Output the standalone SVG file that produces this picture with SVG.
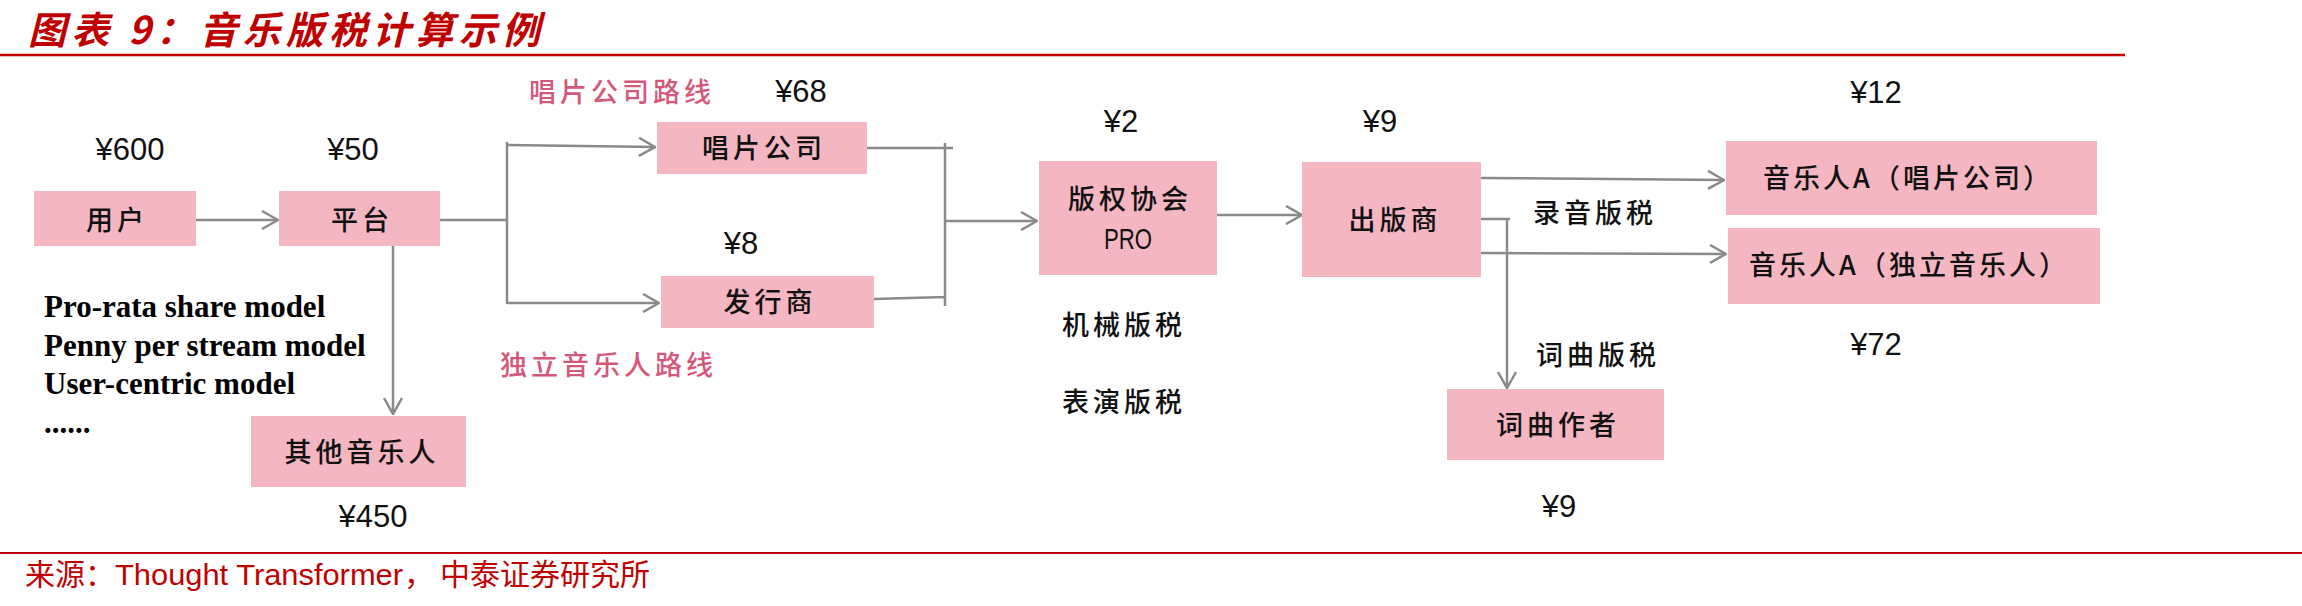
<svg xmlns="http://www.w3.org/2000/svg" width="2302" height="606" viewBox="0 0 2302 606">
  <style>
    .box { fill: #F4B6C0; }
    .lbl { font-family: "Noto Sans CJK SC", sans-serif; font-size: 27px; font-weight: 500; fill: #111; letter-spacing: 4px; text-anchor: middle; }
    .lbl-wide { letter-spacing: 3px; }
    .lat { font-family: "Liberation Sans", "Noto Sans CJK SC", sans-serif; font-size: 30px; letter-spacing: 0; }
    .amt { font-family: "Liberation Sans", sans-serif; font-size: 31px; fill: #111; text-anchor: middle; }
    .route { font-family: "Noto Sans CJK SC", sans-serif; font-size: 27px; font-weight: 500; fill: #D4587A; letter-spacing: 4px; }
    .model { font-family: "Liberation Serif", serif; font-size: 31px; font-weight: bold; fill: #000; }
    .wire { fill: none; stroke: #8A8A8A; stroke-width: 2.5; }
    .arrow { marker-end: url(#chev); }
    .rule { stroke: #C00000; }
  </style>
  <defs>
    <marker id="chev" viewBox="0 0 18 20" refX="17" refY="10" markerWidth="18" markerHeight="20" markerUnits="userSpaceOnUse" orient="auto">
      <path d="M1,1 L17,10 L1,19" fill="none" stroke="#8A8A8A" stroke-width="2.5"/>
    </marker>
  </defs>

  <rect width="2302" height="606" fill="#fff"/>

  <!-- heading and rules -->
  <g id="title">
    <text x="28" y="44" font-family="'Noto Sans CJK SC', sans-serif" font-size="38" font-weight="bold" font-style="italic" fill="#C00000" textLength="512" lengthAdjust="spacing">图表 9：音乐版税计算示例</text>
    <line class="rule" x1="0" y1="55" x2="2125" y2="55" stroke-width="2.5"/>
  </g>

  <!-- connectors -->
  <g id="connectors">
    <path class="wire arrow" d="M196,220 H278"/>
    <path class="wire" d="M440,220 H507 M507,142 V304"/>
    <path class="wire arrow" d="M507,145 L655,147"/>
    <path class="wire arrow" d="M507,303 H659"/>
    <path class="wire arrow" d="M393,246 V414"/>
    <path class="wire" d="M867,148 H953 M945,143 V306 M874,299 L945,297"/>
    <path class="wire arrow" d="M946,221 H1037"/>
    <path class="wire arrow" d="M1217,215 H1302"/>
    <path class="wire arrow" d="M1481,178 L1724,180"/>
    <path class="wire arrow" d="M1481,253 L1726,254"/>
    <path class="wire" d="M1481,219 H1510"/>
    <path class="wire arrow" d="M1507,219 V388"/>
  </g>

  <!-- nodes -->
  <g id="node-user">
    <rect class="box" x="34" y="191" width="162" height="55"/>
    <text class="lbl" x="117" y="230">用户</text>
    <text class="amt" x="130" y="160">¥600</text>
  </g>
  <g id="node-platform">
    <rect class="box" x="279" y="191" width="161" height="55"/>
    <text class="lbl" x="362" y="230">平台</text>
    <text class="amt" x="353" y="160">¥50</text>
  </g>
  <g id="node-label">
    <rect class="box" x="657" y="122" width="210" height="52"/>
    <text class="lbl" x="764" y="158">唱片公司</text>
    <text class="amt" x="801" y="102">¥68</text>
  </g>
  <g id="node-distributor">
    <rect class="box" x="661" y="276" width="213" height="52"/>
    <text class="lbl" x="770" y="312">发行商</text>
    <text class="amt" x="741" y="254">¥8</text>
  </g>
  <g id="node-pro">
    <rect class="box" x="1039" y="161" width="178" height="114"/>
    <text class="lbl" x="1130" y="209">版权协会</text>
    <text class="lbl lat" x="1128" y="249" textLength="48" lengthAdjust="spacingAndGlyphs">PRO</text>
    <text class="amt" x="1121" y="132">¥2</text>
  </g>
  <g id="node-publisher">
    <rect class="box" x="1302" y="162" width="179" height="115"/>
    <text class="lbl" x="1395" y="230">出版商</text>
    <text class="amt" x="1380" y="132">¥9</text>
  </g>
  <g id="node-artist-label">
    <rect class="box" x="1726" y="141" width="371" height="74"/>
    <text class="lbl lbl-wide" x="1908" y="188">音乐人A（唱片公司）</text>
    <text class="amt" x="1876" y="103">¥12</text>
  </g>
  <g id="node-artist-indie">
    <rect class="box" x="1728" y="228" width="372" height="76"/>
    <text class="lbl lbl-wide" x="1909" y="275">音乐人A（独立音乐人）</text>
    <text class="amt" x="1876" y="355">¥72</text>
  </g>
  <g id="node-songwriter">
    <rect class="box" x="1447" y="389" width="217" height="71"/>
    <text class="lbl" x="1558" y="435">词曲作者</text>
    <text class="amt" x="1559" y="517">¥9</text>
  </g>
  <g id="node-other">
    <rect class="box" x="251" y="416" width="215" height="71"/>
    <text class="lbl" x="362" y="462">其他音乐人</text>
    <text class="amt" x="373" y="527">¥450</text>
  </g>

  <!-- annotations -->
  <g id="routes">
    <text class="route" x="529" y="102">唱片公司路线</text>
    <text class="route" x="500" y="375">独立音乐人路线</text>
  </g>
  <g id="royalty-types">
    <text class="lbl" x="1124" y="335">机械版税</text>
    <text class="lbl" x="1124" y="412">表演版税</text>
    <text class="lbl" x="1595" y="223">录音版税</text>
    <text class="lbl" x="1598" y="365">词曲版税</text>
  </g>
  <g id="models">
    <text class="model" x="44" y="317">Pro-rata share model</text>
    <text class="model" x="44" y="356">Penny per stream model</text>
    <text class="model" x="44" y="394">User-centric model</text>
    <text class="model" x="44" y="433">......</text>
  </g>

  <!-- source line -->
  <g id="source">
    <line class="rule" x1="0" y1="553" x2="2302" y2="553" stroke-width="2"/>
    <text y="585" font-size="30" fill="#C00000" font-family="'Noto Sans CJK SC', sans-serif"><tspan x="25">来源：</tspan><tspan x="115" font-family="'Liberation Sans', sans-serif" textLength="288" lengthAdjust="spacingAndGlyphs">Thought Transformer</tspan><tspan x="404">，</tspan><tspan x="440">中泰证券研究所</tspan></text>
  </g>
</svg>
